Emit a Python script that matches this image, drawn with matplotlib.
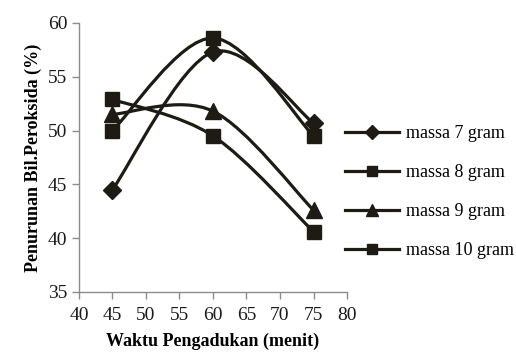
import matplotlib
matplotlib.use("Agg")
import matplotlib.pyplot as plt
import numpy as np
from matplotlib.path import Path
from matplotlib.patches import PathPatch
from matplotlib.lines import Line2D

waktu = [45, 60, 75]
massa7 = [44.5, 57.3, 50.7]
massa8 = [50.0, 58.6, 49.5]
massa9 = [51.5, 51.8, 42.6]
massa10 = [52.9, 49.5, 40.6]
labels = ["massa 7 gram", "massa 8 gram", "massa 9 gram", "massa 10 gram"]
markers = ["D", "s", "^", "s"]
msizes = [9, 10, 11, 10]

color = "#1e1b14"
plt.rcParams['font.family'] = ['Liberation Serif', 'DejaVu Serif']

fig = plt.figure(figsize=(5.16, 3.59), dpi=100)
ax = fig.add_axes([0.153, 0.187, 0.5195, 0.749])


def smooth_path(xs, ys):
    pts = np.column_stack([xs, ys]).astype(float)
    n = len(pts)
    verts = [pts[0]]
    codes = [Path.MOVETO]
    for i in range(n - 1):
        p0 = pts[i - 1] if i > 0 else pts[i]
        p1 = pts[i]
        p2 = pts[i + 1]
        p3 = pts[i + 2] if i + 2 < n else pts[i + 1]
        c1 = p1 + (p2 - p0) / 6.0
        c2 = p2 - (p3 - p1) / 6.0
        verts += [c1, c2, p2]
        codes += [Path.CURVE4] * 3
    return Path(verts, codes)


handles = []
for ys, lab, mk, ms in zip([massa7, massa8, massa9, massa10], labels, markers, msizes):
    patch = PathPatch(smooth_path(waktu, ys), facecolor='none', edgecolor=color, lw=2.3, zorder=2)
    ax.add_patch(patch)
    ax.plot(waktu, ys, linestyle='none', marker=mk, ms=ms, color=color, zorder=3)
    handles.append(Line2D([], [], color=color, lw=2.3, marker=mk, ms=ms * 0.75, label=lab))

ax.set_xlim(40, 80)
ax.set_ylim(35, 60)
ax.set_xticks(range(40, 81, 5))
ax.set_yticks(range(35, 61, 5))
for s in ['top', 'right']:
    ax.spines[s].set_visible(False)
for s in ['left', 'bottom']:
    ax.spines[s].set_color('#8c8c8c')
    ax.spines[s].set_linewidth(1.0)
ax.tick_params(axis='both', colors='#8c8c8c', labelcolor='#1a1a1a', labelsize=14, length=5, width=1.0, direction='out')
ax.tick_params(axis='x', pad=6)

ax.set_xlabel("Waktu Pengadukan (menit)", fontsize=13, fontweight='bold', labelpad=6)
ax.set_ylabel("Penurunan Bil.Peroksida (%)", fontsize=13, fontweight='bold', labelpad=4)

leg = fig.legend(handles=handles, loc='upper left', bbox_to_anchor=(0.655, 0.672), frameon=False,
                 fontsize=13, handlelength=3.0, handletextpad=0.35, labelspacing=1.22,
                 borderaxespad=0)

fig.savefig("out.png", dpi=100)
